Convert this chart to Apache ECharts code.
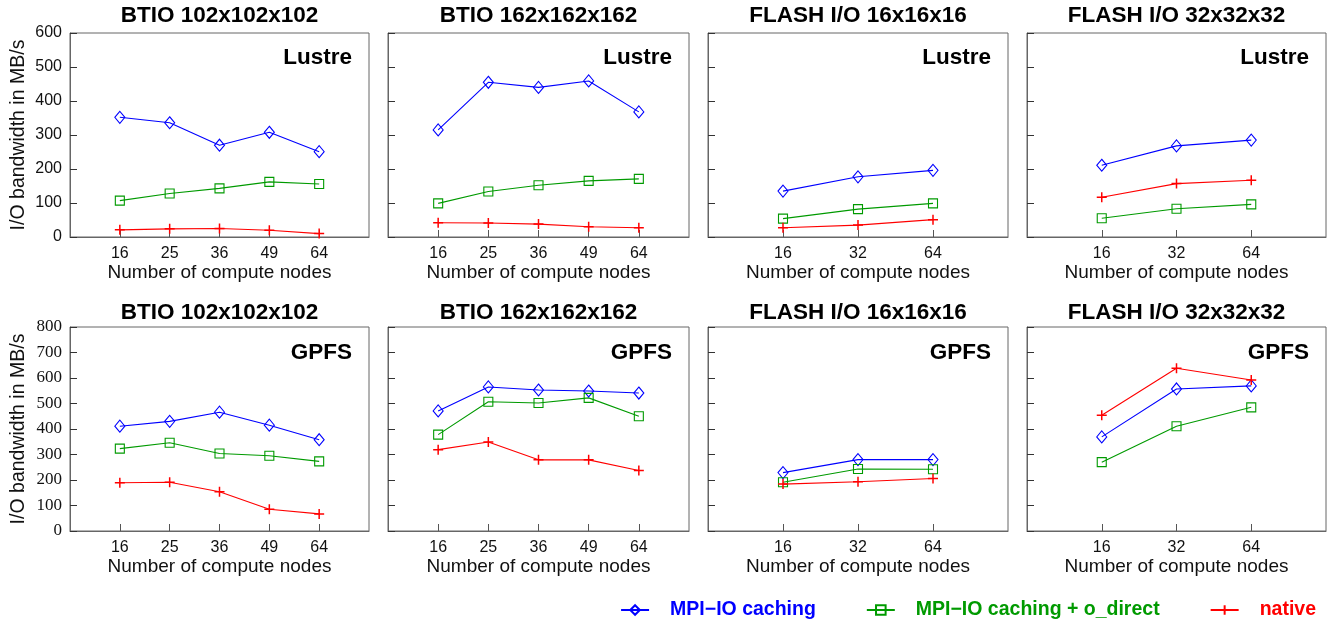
<!DOCTYPE html>
<html>
<head>
<meta charset="utf-8">
<script src="https://cdn.jsdelivr.net/npm/echarts@6/dist/echarts.min.js"></script>
<style>
  html, body { margin: 0; padding: 0; background: #ffffff; }
  #chart { width: 1334px; height: 622px; }
</style>
</head>
<body>
<div id="chart"></div>
<script>
// ---------- categories ----------
const nodesBTIO = ['16', '25', '36', '49', '64'];
const nodesFLASH = ['16', '32', '64'];

// ---------- series names ----------
const seriesNames = ['MPI\u2212IO caching', 'MPI\u2212IO caching + o_direct', 'native'];

// ---------- Lustre (MB/s) ----------
const lustreBtio102Caching = [352, 336, 270, 308, 251];
const lustreBtio102Direct  = [107, 128, 143, 162, 156];
const lustreBtio102Native  = [21, 24, 25, 20, 10];

const lustreBtio162Caching = [315, 455, 440, 459, 368];
const lustreBtio162Direct  = [99, 134, 152, 165, 171];
const lustreBtio162Native  = [42, 41, 38, 30, 27];

const lustreFlash16Caching = [135, 177, 196];
const lustreFlash16Direct  = [54, 82, 99];
const lustreFlash16Native  = [27, 35, 51];

const lustreFlash32Caching = [211, 268, 285];
const lustreFlash32Direct  = [55, 83, 96];
const lustreFlash32Native  = [117, 157, 167];

// ---------- GPFS (MB/s) ----------
const gpfsBtio102Caching = [411, 430, 466, 415, 358];
const gpfsBtio102Direct  = [323, 346, 304, 295, 273];
const gpfsBtio102Native  = [189, 191, 154, 85, 67];

const gpfsBtio162Caching = [471, 565, 553, 549, 541];
const gpfsBtio162Direct  = [378, 507, 502, 522, 450];
const gpfsBtio162Native  = [319, 349, 279, 279, 237];

const gpfsFlash16Caching = [229, 280, 280];
const gpfsFlash16Direct  = [191, 243, 242];
const gpfsFlash16Native  = [184, 193, 206];

const gpfsFlash32Caching = [369, 557, 569];
const gpfsFlash32Direct  = [270, 411, 485];
const gpfsFlash32Native  = [454, 638, 592];

// ---------- panel titles / axis ranges ----------
const panelTitles = ['BTIO 102x102x102', 'BTIO 162x162x162', 'FLASH I/O 16x16x16', 'FLASH I/O 32x32x32'];
const fsNames = ['Lustre', 'GPFS'];
const yMax = [600, 800];
const yInterval = 100;
const yAxisName = 'I/O bandwidth in MB/s';
const xAxisName = 'Number of compute nodes';

const panelCats = [nodesBTIO, nodesBTIO, nodesFLASH, nodesFLASH];
const panelData = [
  [
    [lustreBtio102Caching, lustreBtio102Direct, lustreBtio102Native],
    [lustreBtio162Caching, lustreBtio162Direct, lustreBtio162Native],
    [lustreFlash16Caching, lustreFlash16Direct, lustreFlash16Native],
    [lustreFlash32Caching, lustreFlash32Direct, lustreFlash32Native]
  ],
  [
    [gpfsBtio102Caching, gpfsBtio102Direct, gpfsBtio102Native],
    [gpfsBtio162Caching, gpfsBtio162Direct, gpfsBtio162Native],
    [gpfsFlash16Caching, gpfsFlash16Direct, gpfsFlash16Native],
    [gpfsFlash32Caching, gpfsFlash32Direct, gpfsFlash32Native]
  ]
];

// ---------- layout & style (not data) ----------
const gridLefts = [70, 388, 708, 1027];
const gridWidths = [299, 301, 300, 299];
const rowTops = [33, 327];
const gridHeight = 204;
const titleY = [16, 313];
const fsY = [58, 353];
const colors = ['#0000ff', '#009a00', '#ff0000'];
const symbols = ['diamond', 'rect', 'path://M5,0L5,10M0,5L10,5'];
const symbolSizes = [[10, 12], 9, 10];
const sansFont = '"Liberation Sans", Arial, Helvetica, sans-serif';
const serifFont = '"Liberation Serif", "Times New Roman", serif';
const axisColor = '#666';

const grids = [], xAxes = [], yAxes = [], series = [], titles = [];

for (let r = 0; r < 2; r++) {
  for (let c = 0; c < 4; c++) {
    const idx = r * 4 + c;
    const cats = panelCats[c];
    const padded = [''].concat(cats).concat(['']);
    grids.push({
      left: gridLefts[c], top: rowTops[r], width: gridWidths[c], height: gridHeight,
      show: true, borderColor: axisColor, borderWidth: 1, backgroundColor: '#fff', containLabel: false
    });
    xAxes.push({
      type: 'category', gridIndex: idx, data: padded, boundaryGap: false,
      name: xAxisName, nameLocation: 'middle', nameGap: 26,
      nameTextStyle: { fontFamily: sansFont, fontSize: 19, color: '#111' },
      axisLine: { show: true, lineStyle: { color: axisColor, width: 1 } },
      axisTick: { show: true, inside: true, length: 7, lineStyle: { color: '#555' },
                  interval: function (i, v) { return v !== ''; } },
      axisLabel: { interval: 0, margin: 9, fontFamily: sansFont, fontSize: 16, color: '#111' },
      splitLine: { show: false }
    });
    yAxes.push({
      type: 'value', gridIndex: idx, min: 0, max: yMax[r], interval: yInterval,
      name: c === 0 ? yAxisName : '', nameLocation: 'middle', nameGap: 41,
      nameTextStyle: { fontFamily: sansFont, fontSize: 19.5, color: '#111' },
      axisLine: { show: true, lineStyle: { color: axisColor, width: 1 } },
      axisTick: { show: true, inside: true, length: 7, lineStyle: { color: '#333' } },
      axisLabel: { show: c === 0, margin: 8, fontFamily: r === 0 ? sansFont : serifFont,
                   fontSize: r === 0 ? 16 : 17, color: '#111' },
      splitLine: { show: false }
    });
    const gcx = gridLefts[c] + gridWidths[c] / 2;
    titles.push({
      text: panelTitles[c], left: gcx, top: titleY[r], padding: 0,
      textAlign: 'center', textVerticalAlign: 'middle',
      textStyle: { fontFamily: sansFont, fontSize: 22.5, fontWeight: 'bold', color: '#000' }
    });
    titles.push({
      text: fsNames[r], left: gridLefts[c] + gridWidths[c] - 17, top: fsY[r], padding: 0,
      textAlign: 'right', textVerticalAlign: 'middle',
      textStyle: { fontFamily: sansFont, fontSize: 22.5, fontWeight: 'bold', color: '#000' }
    });
    for (let s = 0; s < 3; s++) {
      const vals = panelData[r][c][s];
      series.push({
        type: 'line', name: seriesNames[s], xAxisIndex: idx, yAxisIndex: idx,
        data: vals.map(function (v, i) { return [i + 1, v]; }),
        color: colors[s],
        symbol: symbols[s], symbolSize: symbolSizes[s], showAllSymbol: true,
        lineStyle: { color: colors[s], width: 1.1 },
        itemStyle: { color: 'rgba(255,255,255,0)', borderColor: colors[s], borderWidth: s === 2 ? 1.5 : 1.1 },
        emphasis: { disabled: true },
        animation: false, z: 3
      });
    }
  }
}

const chart = echarts.init(document.getElementById('chart'), null, { renderer: 'canvas' });
chart.setOption({
  backgroundColor: '#ffffff',
  animation: false,
  title: titles,
  grid: grids,
  xAxis: xAxes,
  yAxis: yAxes,
  legend: {
    right: 13, top: 595, itemWidth: 28, itemHeight: 12, itemGap: 50,
    data: seriesNames.map(function (n, i) {
      return { name: n, textStyle: { color: colors[i] } };
    }),
    textStyle: { fontFamily: sansFont, fontSize: 19.5, fontWeight: 'bold', padding: [0, 0, 0, 16] },
    selectedMode: false
  },
  series: series
});
</script>
</body>
</html>
